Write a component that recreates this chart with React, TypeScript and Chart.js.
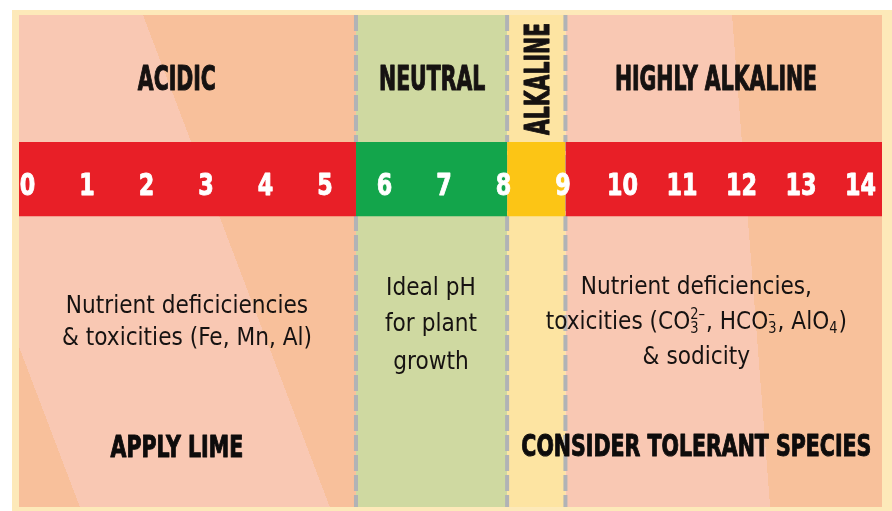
import React, { useEffect, useRef } from "react";
import { Chart, registerables } from "chart.js";

Chart.register(...registerables);

// ---- pH scale ----
const phTicks = [0, 1, 2, 3, 4, 5, 6, 7, 8, 9, 10, 11, 12, 13, 14];
const phMin = -0.143;
const phMax = 14.36;

// ---- zones ----
const zoneNames = ["ACIDIC", "NEUTRAL", "ALKALINE", "HIGHLY ALKALINE"];
const zoneStart = [-0.143, 5.52, 8.06, 9.04];
const zoneEnd = [5.52, 8.06, 9.04, 14.36];
const zoneColors = ["#f8c19c", "#cfd9a1", "#fde4a2", "#f9c8b3"];
const bandColors = ["#e81f27", "#13a54b", "#fcc515", "#e81f27"];
const dividerPh = [5.52, 8.06, 9.04];

// vertical extent of the coloured pH band (% of panel height, from top)
const bandTop = 25.8;
const bandBottom = 40.9;

// ---- texts ----
const acidicNote = ["Nutrient deficiciencies", "& toxicities (Fe, Mn, Al)"];
const neutralNote = ["Ideal pH", "for plant", "growth"];
const alkalineNote = [
  [{ t: "Nutrient deficiencies," }],
  [
    { t: "toxicities (CO" },
    { sup: "2–", sub: "3" },
    { t: ", HCO" },
    { sup: "–", sub: "3" },
    { t: ", AlO" },
    { sub: "4" },
    { t: ")" },
  ],
  [{ t: "& sodicity" }],
];
const actions = ["APPLY LIME", "CONSIDER TOLERANT SPECIES"];

const FONT = '"Liberation Sans Narrow", "DejaVu Sans Condensed", "Open Sans", sans-serif';

type Style = { weight: string; size: number; refText: string; refWidth: number; stroke: number };
const styles: Record<string, Style> = {
  title: { weight: "bold", size: 34, refText: "ACIDIC", refWidth: 78, stroke: 1.1 },
  number: { weight: "bold", size: 30, refText: "10", refWidth: 31, stroke: 0.9 },
  body: { weight: "normal", size: 25, refText: "& toxicities (Fe, Mn, Al)", refWidth: 250, stroke: 0 },
  action: { weight: "bold", size: 30, refText: "CONSIDER TOLERANT SPECIES", refWidth: 350, stroke: 1.0 },
};

const layoutCfg = {
  titles: [
    { x: 2.51, y: 12.8, rotate: false },
    { x: 6.8, y: 12.8, rotate: false },
    { x: 8.55, y: 13.0, rotate: true },
    { x: 11.57, y: 12.8, rotate: false },
  ],
  numbersY: 34.3,
  acidic: { x: 2.68, y: [58.7, 65.3] },
  neutral: { x: 6.78, y: [55.1, 62.4, 70.1] },
  alkaline: { x: 11.24, y: [54.9, 62.0, 69.1] },
  actions: [
    { x: 2.51, y: 87.7 },
    { x: 11.24, y: 87.4 },
  ],
};

// diagonal two-tone shading of the outer zones
const zoneShades: any[] = [
  { colors: ["#f8c09b", "#f9c8b3", "#f8c09b"], edges: [-2.26, 1.94], shift: 3.14 },
  null,
  null,
  { colors: ["#f9c8b3", "#f8c19b"], edges: [11.84], shift: 0.64 },
];

function fontStr(st: Style, mult = 1) {
  return `${st.weight} ${st.size * mult}px ${FONT}`;
}

function shadeFill(chart: any, i: number) {
  const shade = zoneShades[i];
  const a = chart.chartArea;
  if (!shade || !a) return zoneColors[i];
  const xs = chart.scales.x;
  const H = a.bottom - a.top;
  const D = xs.getPixelForValue(shade.shift) - xs.getPixelForValue(0);
  const X0 = a.left - 400;
  const X1 = a.right + 400;
  const n2 = H * H + D * D;
  const k = ((X1 - X0) * H) / n2;
  const g = chart.ctx.createLinearGradient(X0, a.top, X0 + H * k, a.top - D * k);
  g.addColorStop(0, shade.colors[0]);
  shade.edges.forEach((e: number, j: number) => {
    const t = Math.min(1, Math.max(0, (xs.getPixelForValue(e) - X0) / (X1 - X0)));
    g.addColorStop(t, shade.colors[j]);
    g.addColorStop(t, shade.colors[j + 1]);
  });
  g.addColorStop(1, shade.colors[shade.colors.length - 1]);
  return g;
}

function drawRich(ctx: CanvasRenderingContext2D, segs: any[], st: Style, sx: number, cx: number, cy: number, angle: number, color: string) {
  const main = fontStr(st);
  const small = fontStr(st, 0.6);
  const widths = segs.map((s) => {
    if (s.t !== undefined) {
      ctx.font = main;
      return ctx.measureText(s.t).width;
    }
    ctx.font = small;
    const w1 = s.sup ? ctx.measureText(s.sup).width : 0;
    const w2 = s.sub ? ctx.measureText(s.sub).width : 0;
    return Math.max(w1, w2) + st.size * 0.04;
  });
  const total = widths.reduce((p, v) => p + v, 0);
  ctx.save();
  ctx.translate(cx, cy);
  if (angle) ctx.rotate(angle);
  ctx.scale(sx, 1);
  ctx.fillStyle = color;
  ctx.strokeStyle = color;
  ctx.lineJoin = "round";
  ctx.textAlign = "left";
  ctx.textBaseline = "alphabetic";
  const base = st.size * 0.36;
  let xx = -total / 2;
  const put = (txt: string, px: number, py: number) => {
    ctx.fillText(txt, px, py);
    if (st.stroke > 0) {
      ctx.lineWidth = st.stroke;
      ctx.strokeText(txt, px, py);
    }
  };
  segs.forEach((s, i) => {
    if (s.t !== undefined) {
      ctx.font = main;
      put(s.t, xx, base);
    } else {
      ctx.font = small;
      if (s.sup) put(s.sup, xx, base - st.size * 0.42);
      if (s.sub) put(s.sub, xx, base + st.size * 0.16);
    }
    xx += widths[i];
  });
  ctx.restore();
}

const framePlugin = {
  id: "frame",
  beforeDraw(chart: any, _args: any, opts: any) {
    const { ctx, width, height } = chart;
    ctx.save();
    ctx.fillStyle = "#ffffff";
    ctx.fillRect(0, 0, width, height);
    ctx.fillStyle = opts.color;
    ctx.fillRect(opts.left, opts.top, width - opts.left, height - opts.top);
    ctx.restore();
  },
};

const textPlugin = {
  id: "phText",
  afterDatasetsDraw(chart: any, _args: any, opts: any) {
    const { ctx, chartArea: a, scales } = chart;
    const x = scales.x;
    const y = scales.y;
    const factor: Record<string, number> = {};
    Object.keys(styles).forEach((k) => {
      const st = styles[k];
      ctx.font = fontStr(st);
      factor[k] = st.refWidth / ctx.measureText(st.refText).width;
    });
    const L = opts.layout;
    const ink = "#161211";

    // zone titles
    zoneNames.forEach((name, i) => {
      const p = L.titles[i];
      drawRich(ctx, [{ t: name }], styles.title, factor.title, x.getPixelForValue(p.x), y.getPixelForValue(p.y), p.rotate ? -Math.PI / 2 : 0, ink);
    });

    // pH numbers inside the band
    ctx.save();
    ctx.beginPath();
    ctx.rect(a.left, a.top, a.right - a.left, a.bottom - a.top);
    ctx.clip();
    phTicks.forEach((v) => {
      drawRich(ctx, [{ t: String(v) }], styles.number, factor.number, x.getPixelForValue(v), y.getPixelForValue(L.numbersY), 0, "#ffffff");
    });
    ctx.restore();

    // notes
    acidicNote.forEach((line, i) => {
      drawRich(ctx, [{ t: line }], styles.body, factor.body, x.getPixelForValue(L.acidic.x), y.getPixelForValue(L.acidic.y[i]), 0, ink);
    });
    neutralNote.forEach((line, i) => {
      drawRich(ctx, [{ t: line }], styles.body, factor.body, x.getPixelForValue(L.neutral.x), y.getPixelForValue(L.neutral.y[i]), 0, ink);
    });
    alkalineNote.forEach((segs, i) => {
      drawRich(ctx, segs, styles.body, factor.body, x.getPixelForValue(L.alkaline.x), y.getPixelForValue(L.alkaline.y[i]), 0, ink);
    });

    // actions
    actions.forEach((txt, i) => {
      const p = L.actions[i];
      drawRich(ctx, [{ t: txt }], styles.action, factor.action, x.getPixelForValue(p.x), y.getPixelForValue(p.y), 0, "#0e0c0c");
    });
  },
};

export default function App() {
  const ref = useRef<HTMLCanvasElement | null>(null);

  useEffect(() => {
    if (!ref.current) return;
    const datasets: any[] = [];

    // zone backgrounds
    zoneNames.forEach((name, i) => {
      datasets.push({
        label: name,
        data: [
          { x: zoneStart[i], y: 0 },
          { x: zoneEnd[i], y: 0 },
        ],
        fill: { value: 100 },
        backgroundColor: (c: any) => shadeFill(c.chart, i),
        borderColor: "transparent",
        borderWidth: 0,
        pointRadius: 0,
        order: 3,
      });
    });

    // dashed dividers
    dividerPh.forEach((d) => {
      datasets.push({
        label: "divider " + d,
        data: [
          { x: d, y: 0 },
          { x: d, y: 100 },
        ],
        fill: false,
        borderColor: "#b1b3b6",
        borderWidth: 4,
        borderDash: [16, 4],
        pointRadius: 0,
        order: 2,
      });
    });

    // pH colour band
    bandColors.forEach((col, i) => {
      datasets.push({
        label: "band " + zoneNames[i],
        data: [
          { x: zoneStart[i], y: bandTop },
          { x: zoneEnd[i], y: bandTop },
        ],
        fill: { value: bandBottom },
        backgroundColor: col,
        borderColor: "transparent",
        borderWidth: 0,
        pointRadius: 0,
        order: 1,
      });
    });

    const chart = new Chart(ref.current, {
      type: "line",
      data: { datasets },
      plugins: [framePlugin, textPlugin],
      options: {
        animation: false,
        responsive: false,
        devicePixelRatio: 1,
        events: [],
        layout: { padding: { left: 19, top: 15, right: 10, bottom: 4 } },
        scales: {
          x: { type: "linear", min: phMin, max: phMax, display: false },
          y: { type: "linear", min: 0, max: 100, reverse: true, display: false },
        },
        plugins: {
          legend: { display: false },
          tooltip: { enabled: false },
          frame: { color: "#fde9b9", left: 12, top: 10 },
          phText: { layout: layoutCfg },
        } as any,
      },
    } as any);
    return () => chart.destroy();
  }, []);

  return (
    <div style={{ position: "fixed", left: 0, top: 0, width: 892, height: 511, background: "#fff" }}>
      <canvas ref={ref} width={892} height={511} style={{ display: "block", width: 892, height: 511 }} />
    </div>
  );
}
